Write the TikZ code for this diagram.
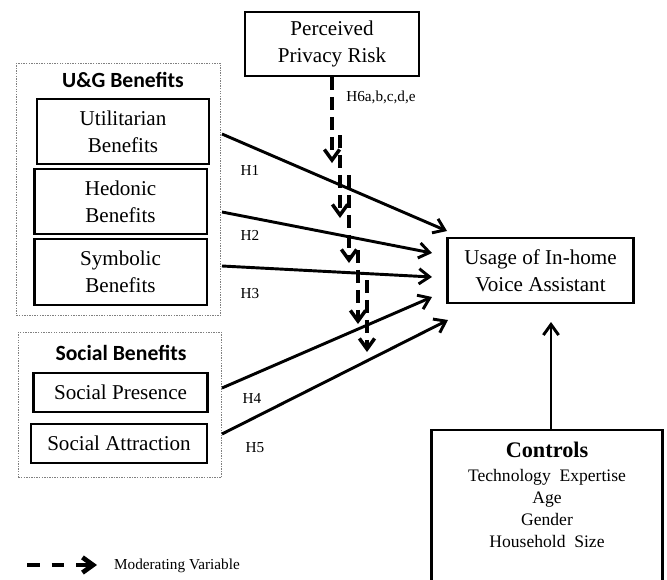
\documentclass[tikz,border=0pt]{standalone}
\usepackage{fontspec}
\setmainfont{Liberation Serif}
\newfontfamily\headfont{Carlito}
\usetikzlibrary{arrows.meta}

\tikzset{
  box/.style = {draw, line width = 2pt, align = center, inner sep = 0pt,
    font = \fontsize{18}{23}\selectfont},
  group/.style = {draw = gray, densely dotted, line width = 1.2pt, inner sep = 0pt},
  grouptitle/.style = {font = \headfont\bfseries\fontsize{18.5}{22}\selectfont},
  hyp/.style = {font = \fontsize{13}{15}\selectfont},
  link/.style = {line width = 2.5pt, -{Straight Barb[length = 9pt, width = 13pt]}},
  moder/.style = {line width = 3pt, dash pattern = on 11pt off 6pt,
    -{Straight Barb[length = 9pt, width = 13pt]}}
}

\begin{document}
\begin{tikzpicture}[x = .03cm, y = -.03cm]
    \useasboundingbox (0,0) rectangle (667,579);
    \clip (0,0) rectangle (667,579);
    % benefit groups
    \node [group, minimum width = 174.3pt, minimum height = 215.2pt] (ug) at (118.5,189.5) {};
    \node [grouptitle] (ugtitle) at (123,80) {U\&G Benefits};
    \node [box, minimum width = 146.3pt, minimum height = 55.3pt] (util) at (123,131.5) {Utilitarian\\Benefits};
    \node [box, minimum width = 147.1pt, minimum height = 55.3pt] (hed) at (120.5,201.5) {Hedonic\\Benefits};
    \node [box, minimum width = 147.1pt, minimum height = 56.1pt] (sym) at (120.5,272) {Symbolic\\Benefits};
    \node [group, minimum width = 173.5pt, minimum height = 124.2pt] (soc) at (120,405) {};
    \node [grouptitle] (soctitle) at (121,353) {Social Benefits};
    \node [box, minimum width = 148.8pt, minimum height = 33.2pt] (pres) at (120.5,392.5) {Social Presence};
    \node [box, minimum width = 149.7pt, minimum height = 33.2pt] (attr) at (119,443.5) {Social Attraction};
    % moderator, outcome and controls
    \node [box, minimum width = 148pt, minimum height = 54.4pt] (risk) at (332,44) {Perceived\\Privacy Risk};
    \node [box, minimum width = 159pt, minimum height = 55.3pt] (use) at (540.5,270.5) {Usage of In-home\\Voice Assistant};
    \node [box, minimum width = 197.3pt, minimum height = 140pt, anchor = north] (ctrl) at (547,429) {};
    \node [align = center, font = \fontsize{15}{18.8}\selectfont] (ctrltext) at (547,495)
      {{\fontsize{19}{22}\selectfont\bfseries Controls}\\[2pt]
       Technology~ Expertise\\Age\\Gender\\Household~ Size};
    % direct effects
    \foreach \i/\ya/\xb/\yb in {1/134/447/231, 2/212/432/253, 3/266/432/277, 4/388/432/297, 5/434/448/320} {
      \coordinate (s\i) at (222,\ya);
      \coordinate (t\i) at (\xb,\yb);
      \draw [link] (s\i) -- (t\i);
    }
    \coordinate (ctip) at (551,322);
    \draw [link] (ctrl.north -| ctip) -- (ctip);
    \node [hyp] (h1) at (250,170) {H1};
    \node [hyp] (h2) at (250,235) {H2};
    \node [hyp] (h3) at (250,294) {H3};
    \node [hyp] (h4) at (252,398) {H4};
    \node [hyp] (h5) at (255,448) {H5};
    \node [hyp] (h6) at (381,97) {H6a,b,c,d,e};
    % moderating arrows
    \draw [moder] (risk.south) -- ++(0,86);
    \foreach \i/\x/\ya/\yb in {2/340/135/218, 3/349/175/263, 4/358/250/324, 5/367/280/352} {
      \coordinate (ma\i) at (\x,\ya);
      \coordinate (mb\i) at (\x,\yb);
      \draw [moder] (ma\i) -- (mb\i);
    }
    % legend
    \coordinate (lga) at (27,565);
    \coordinate (lgb) at (97,565);
    \draw [moder, line width = 4pt, dash pattern = on 11pt off 10pt] (lga) -- (lgb);
    \node [hyp, anchor = west] (lgtext) at (110,566) {Moderating Variable};
  \end{tikzpicture}
\end{document}
